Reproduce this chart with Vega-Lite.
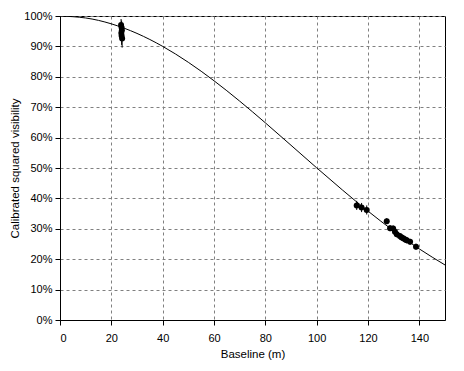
{
  "$schema": "https://vega.github.io/schema/vega-lite/v6.json",
  "width": 385,
  "height": 304,
  "autosize": {"type": "none"},
  "padding": {"left": 60, "top": 16, "right": 19, "bottom": 51},
  "background": "white",
  "config": {
    "view": {"stroke": "black", "strokeWidth": 1},
    "font": "Liberation Sans",
    "axis": {
      "labelFont": "Liberation Sans",
      "titleFont": "Liberation Sans",
      "labelFontSize": 11,
      "titleFontSize": 11.5,
      "titleFontWeight": "normal",
      "labelColor": "black",
      "titleColor": "black",
      "domainColor": "black",
      "tickColor": "black",
      "tickSize": 5,
      "grid": true,
      "gridColor": "#808080",
      "gridDash": [3, 3],
      "gridWidth": 1
    }
  },
  "datasets": {
    "model": [
      {"b": 0, "v": 1.0},
      {"b": 10, "v": 0.9935},
      {"b": 20, "v": 0.9742},
      {"b": 30, "v": 0.9427},
      {"b": 40, "v": 0.9001},
      {"b": 50, "v": 0.8477},
      {"b": 60, "v": 0.787},
      {"b": 70, "v": 0.72},
      {"b": 80, "v": 0.6486},
      {"b": 90, "v": 0.5748},
      {"b": 100, "v": 0.5006},
      {"b": 110, "v": 0.4279},
      {"b": 120, "v": 0.3582},
      {"b": 130, "v": 0.2931},
      {"b": 140, "v": 0.2338},
      {"b": 150, "v": 0.181}
    ],
    "obs": [
      {"b": 23.8, "v": 0.97, "lo": 0.955, "hi": 0.99},
      {"b": 24.0, "v": 0.962, "lo": 0.94, "hi": 0.985},
      {"b": 24.1, "v": 0.953, "lo": 0.93, "hi": 0.978},
      {"b": 23.9, "v": 0.944, "lo": 0.92, "hi": 0.968},
      {"b": 24.0, "v": 0.935, "lo": 0.905, "hi": 0.96},
      {"b": 24.2, "v": 0.926, "lo": 0.896, "hi": 0.95},
      {"b": 115.6, "v": 0.377, "lo": 0.362, "hi": 0.392},
      {"b": 117.5, "v": 0.37, "lo": 0.355, "hi": 0.385},
      {"b": 119.5, "v": 0.362, "lo": 0.347, "hi": 0.377},
      {"b": 127.3, "v": 0.325, "lo": 0.315, "hi": 0.335},
      {"b": 128.6, "v": 0.302, "lo": 0.292, "hi": 0.312},
      {"b": 129.8, "v": 0.301, "lo": 0.291, "hi": 0.311},
      {"b": 130.5, "v": 0.29, "lo": 0.28, "hi": 0.3},
      {"b": 131.2, "v": 0.282, "lo": 0.272, "hi": 0.292},
      {"b": 132.4, "v": 0.276, "lo": 0.266, "hi": 0.286},
      {"b": 133.0, "v": 0.272, "lo": 0.262, "hi": 0.282},
      {"b": 133.7, "v": 0.269, "lo": 0.259, "hi": 0.279},
      {"b": 134.5, "v": 0.265, "lo": 0.255, "hi": 0.275},
      {"b": 135.1, "v": 0.262, "lo": 0.252, "hi": 0.272},
      {"b": 136.4, "v": 0.257, "lo": 0.247, "hi": 0.267},
      {"b": 138.7, "v": 0.241, "lo": 0.231, "hi": 0.251}
    ]
  },
  "encoding": {
    "x": {
      "type": "quantitative",
      "scale": {"domain": [0, 150], "nice": false, "zero": true},
      "axis": {"values": [0, 20, 40, 60, 80, 100, 120, 140], "title": "Baseline (m)", "labelPadding": 7, "titlePadding": 5}
    },
    "y": {
      "type": "quantitative",
      "scale": {"domain": [0, 1], "nice": false},
      "axis": {"values": [0, 0.1, 0.2, 0.3, 0.4, 0.5, 0.6, 0.7, 0.8, 0.9, 1.0], "format": ".0%", "title": "Calibrated squared visibility", "labelPadding": 3, "titlePadding": 3}
    }
  },
  "layer": [
    {
      "data": {"name": "model"},
      "mark": {"type": "line", "color": "black", "strokeWidth": 1, "interpolate": "natural", "clip": true},
      "encoding": {"x": {"field": "b", "type": "quantitative"}, "y": {"field": "v", "type": "quantitative"}}
    },
    {
      "data": {"name": "obs"},
      "mark": {"type": "rule", "color": "black", "strokeWidth": 1},
      "encoding": {"x": {"field": "b", "type": "quantitative"}, "y": {"field": "lo", "type": "quantitative"}, "y2": {"field": "hi"}}
    },
    {
      "data": {"name": "obs"},
      "mark": {"type": "circle", "color": "black", "opacity": 1, "size": 36},
      "encoding": {"x": {"field": "b", "type": "quantitative"}, "y": {"field": "v", "type": "quantitative"}}
    }
  ]
}
